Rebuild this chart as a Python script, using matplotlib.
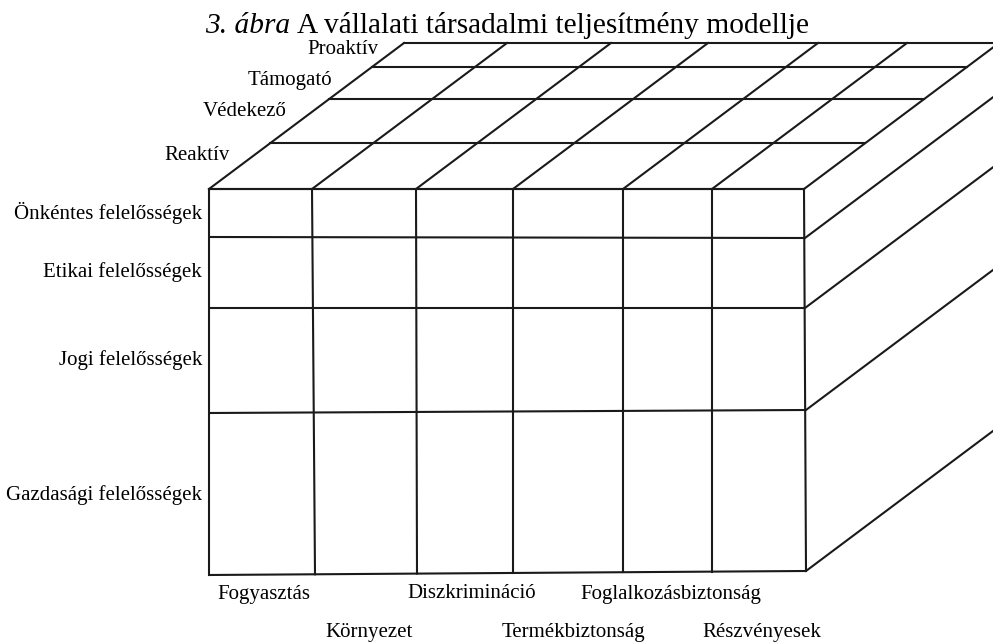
import numpy as np
import matplotlib
matplotlib.use("Agg")
import matplotlib.pyplot as plt

plt.rcParams['font.family'] = ['Liberation Serif', 'DejaVu Serif']

# 데이터 (labels of the three axes of the cube)
title_italic = "3. ábra"
title_rest = "A vállalati társadalmi teljesítmény modellje"
responsibilities = ["Önkéntes felelősségek", "Etikai felelősségek",
                    "Jogi felelősségek", "Gazdasági felelősségek"]
issues = ["Fogyasztás", "Környezet", "Diszkrimináció",
          "Termékbiztonság", "Foglalkozásbiztonság", "Részvényesek"]
responsiveness = ["Reaktív", "Védekező", "Támogató", "Proaktív"]

# layout of the cube (pixel coords, y down)
col_x_top = [209, 312, 416, 513, 623, 712, 804]
col_x_bot = [209, 315, 417, 513, 623, 712, 806]
row_y_left = [189, 237, 308, 413, 575]
row_y_right = [189, 238, 308, 410, 571]
depth_f = [0, 0.315, 0.616, 0.836, 1.0]
DX, DY = 195, -146

lw = 1.5
col = "#1a1a1a"

fig = plt.figure(figsize=(9.93, 6.42), dpi=100)
ax = fig.add_axes([0, 0, 1, 1])
ax.set_xlim(0, 993)
ax.set_ylim(642, 0)
ax.axis('off')

# front face
xl, xr = col_x_top[0], col_x_top[-1] + 1
for yl, yr in zip(row_y_left, row_y_right):
    ax.plot([xl, xr], [yl, yr], color=col, lw=lw, solid_capstyle='butt')
for xt, xb in zip(col_x_top, col_x_bot):
    yb = np.interp(xb, [xl, xr], [row_y_left[-1], row_y_right[-1]])
    ax.plot([xt, xb], [row_y_left[0], yb], color=col, lw=lw,
            solid_capstyle='projecting')

# top face
x0, x1, y0 = col_x_top[0], col_x_top[-1], row_y_left[0]
for f in depth_f:
    ax.plot([x0 + DX * f, x1 + DX * f], [y0 + DY * f, y0 + DY * f],
            color=col, lw=lw)
for xt in col_x_top:
    ax.plot([xt, xt + DX], [y0, y0 + DY], color=col, lw=lw)

# right side face
for yr, xb in zip(row_y_right[1:], [805, 805, 806, 806]):
    ax.plot([xb, xb + DX], [yr, yr + DY], color=col, lw=lw)

# labels
fs = 15
resp_y = [213, 272, 360, 495]
for lab, y in zip(responsibilities, resp_y):
    ax.text(202, y, lab, ha='right', va='center', fontsize=fs)

# depth labels: right edge, vertical center
depth_lab_x = [230, 287, 332, 378]
depth_lab_y = [155, 112, 80, 50]
for lab, x, y in zip(responsiveness, depth_lab_x, depth_lab_y):
    ax.text(x, y, lab, ha='right', va='center', fontsize=fs)

# issue labels, staggered in two rows
issue_x = [217, 325, 407, 502, 580, 702]
for i, (lab, x) in enumerate(zip(issues, issue_x)):
    y = 594 if i % 2 == 0 else 632
    ax.text(x, y, lab, ha='left', va='center', fontsize=fs)

# title
t1 = ax.text(205, 33, title_italic, style='italic', va='baseline',
             fontsize=21.2)
fig.canvas.draw()
bb = t1.get_window_extent()
x_end = ax.transData.inverted().transform((bb.x1, bb.y0))[0]
ax.text(x_end + 7, 33, title_rest, va='baseline', fontsize=21.2)

fig.savefig("out.png", dpi=100)
